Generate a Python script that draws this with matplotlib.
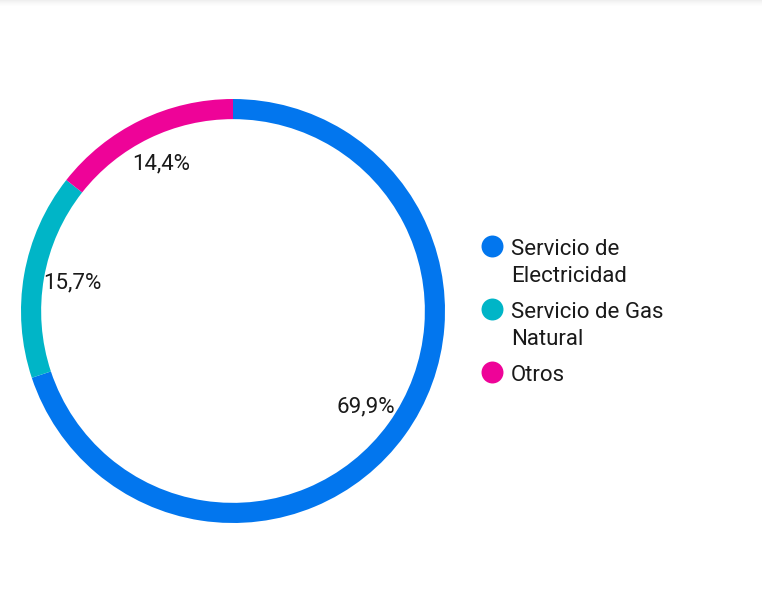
import matplotlib.pyplot as plt
from matplotlib.lines import Line2D
from matplotlib.patches import Rectangle

plt.rcParams['font.family'] = ['Roboto', 'DejaVu Sans']

# data
categories = ['Servicio de\nElectricidad', 'Servicio de Gas\nNatural', 'Otros']
shares = [69.9, 15.7, 14.4]
colors = ['#0276EE', '#00B5C7', '#EE0398']

W, H = 762, 613
fig = plt.figure(figsize=(W / 100, H / 100), dpi=100)

# faint shadow strip along the top edge
for i, g in enumerate(['#efefef', '#f3f3f3', '#f6f6f6', '#f9f9f9', '#fbfbfb', '#fdfdfd']):
    fig.add_artist(Rectangle((0, 1 - (i + 1) / H), 1, 1 / H,
                             transform=fig.transFigure, color=g, lw=0))

ax = fig.add_axes([21 / W, 90 / H, 424 / W, 424 / H])


def fmt(p):
    return f"{p:.1f}".replace('.', ',') + '%'


wedges, texts, autotexts = ax.pie(
    shares, colors=colors, startangle=90, counterclock=False,
    autopct=fmt, pctdistance=0.77,
    wedgeprops=dict(width=0.095, edgecolor='none'),
    textprops=dict(fontsize=16, color='#1a1a1a'))
ax.set_xlim(-1, 1)
ax.set_ylim(-1, 1)
ax.set_aspect('equal')
ax.axis('off')

# legend, drawn by hand so the dot lines up with the first text line
y_base = 255      # baseline of first line, px from top
line_h = 27
entry_gap = 36
for label, c in zip(categories, colors):
    lines = label.split('\n')
    fig.add_artist(Line2D([492 / W], [1 - (y_base - 9) / H], marker='o',
                          markersize=15.8, markerfacecolor=c,
                          markeredgecolor='none', transform=fig.transFigure))
    y = y_base
    for ln in lines:
        fig.text(511 / W, 1 - y / H, ln, fontsize=16, color='#1a1a1a',
                 ha='left', va='baseline')
        y += line_h
    y_base = y - line_h + entry_gap

fig.savefig('out.png', dpi=100, facecolor='white')
